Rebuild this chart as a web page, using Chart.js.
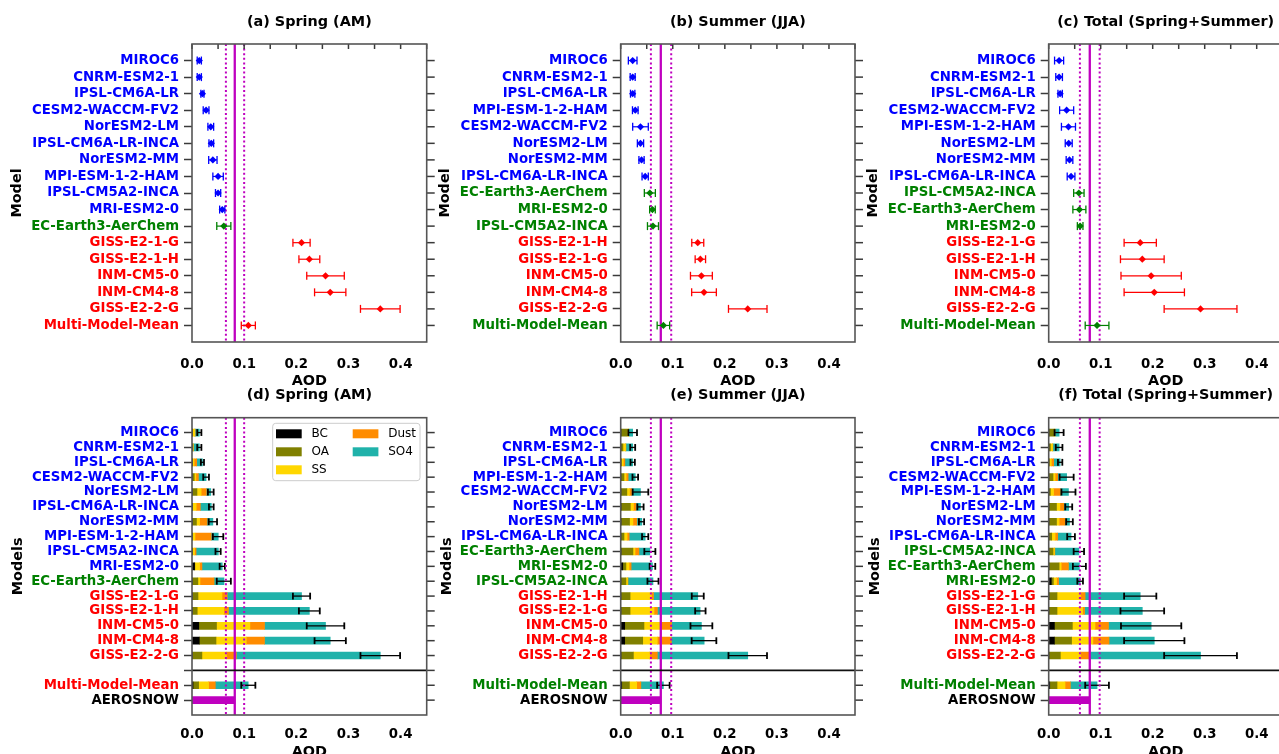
<!DOCTYPE html>
<html>
<head>
<meta charset="utf-8">
<script src="https://cdn.jsdelivr.net/npm/chart.js@4"></script>
<style>
html,body{margin:0;padding:0;background:#fff;}
body{width:1279px;height:754px;overflow:hidden;position:relative;}
canvas{position:absolute;left:0;top:0;}
</style>
</head>
<body>
<script>
// ---------------- DATA ----------------
const xTickValues = [0, 0.1, 0.2, 0.3, 0.4];
const topMinorTicks = [0, 0.05, 0.1, 0.15, 0.2, 0.25, 0.3, 0.35, 0.4, 0.45];
const speciesNames = ['BC', 'OA', 'SS', 'Dust', 'SO4'];
const speciesColors = ['#000000', '#808000', '#FFD700', '#FF8C00', '#20B2AA'];

// (a)/(d) Spring (AM)
const springModels = ['MIROC6','CNRM-ESM2-1','IPSL-CM6A-LR','CESM2-WACCM-FV2','NorESM2-LM','IPSL-CM6A-LR-INCA','NorESM2-MM','MPI-ESM-1-2-HAM','IPSL-CM5A2-INCA','MRI-ESM2-0','EC-Earth3-AerChem','GISS-E2-1-G','GISS-E2-1-H','INM-CM5-0','INM-CM4-8','GISS-E2-2-G','Multi-Model-Mean'];
const springGroup = ['b','b','b','b','b','b','b','b','b','b','g','r','r','r','r','r','r'];
const springMean = [0.014,0.014,0.020,0.027,0.036,0.037,0.040,0.050,0.050,0.058,0.061,0.210,0.225,0.256,0.265,0.361,0.108];
const springErr  = [0.004,0.004,0.003,0.0055,0.0055,0.0045,0.008,0.010,0.005,0.005,0.0135,0.0165,0.020,0.036,0.030,0.038,0.0135];
const springBC   = [0.0003,0.0002,0.0003,0.0003,0.0005,0.0005,0.0005,0.0003,0.0003,0.005,0.0003,0.0005,0.0005,0.013,0.014,0.0005,0.002];
const springOA   = [0.0007,0.0003,0.0007,0.004,0.009,0.0005,0.008,0.0005,0.0005,0.0005,0.011,0.011,0.0095,0.034,0.032,0.0185,0.0107];
const springSS   = [0.004,0.0015,0.003,0.003,0.008,0.007,0.006,0.005,0.004,0.009,0.004,0.046,0.051,0.064,0.058,0.047,0.019];
const springDust = [0.001,0.0005,0.005,0.005,0.010,0.008,0.0145,0.031,0.003,0.0045,0.027,0.010,0.009,0.028,0.035,0.019,0.013];
const springSO4  = [0.008,0.0115,0.011,0.0147,0.0085,0.021,0.011,0.0135,0.0427,0.039,0.019,0.1425,0.155,0.117,0.126,0.276,0.063];
const springObs  = [0.065, 0.082, 0.100]; // AEROSNOW low, mean, high

// (b)/(e) Summer (JJA)
const summerModels = ['MIROC6','CNRM-ESM2-1','IPSL-CM6A-LR','MPI-ESM-1-2-HAM','CESM2-WACCM-FV2','NorESM2-LM','NorESM2-MM','IPSL-CM6A-LR-INCA','EC-Earth3-AerChem','MRI-ESM2-0','IPSL-CM5A2-INCA','GISS-E2-1-H','GISS-E2-1-G','INM-CM5-0','INM-CM4-8','GISS-E2-2-G','Multi-Model-Mean'];
const summerGroup = ['b','b','b','b','b','b','b','b','g','g','g','r','r','r','r','r','g'];
const summerMean = [0.023,0.023,0.023,0.028,0.038,0.038,0.040,0.047,0.056,0.061,0.062,0.148,0.153,0.155,0.160,0.244,0.082];
const summerErr  = [0.0083,0.0048,0.0042,0.0054,0.015,0.006,0.005,0.006,0.0106,0.0054,0.0106,0.0115,0.010,0.021,0.0237,0.037,0.012];
const summerBC   = [0.0005,0.0003,0.0003,0.0003,0.0003,0.0005,0.0005,0.0003,0.0005,0.004,0.0003,0.0003,0.0003,0.0077,0.0077,0.0004,0.002];
const summerOA   = [0.012,0.004,0.0007,0.006,0.0115,0.018,0.0165,0.006,0.023,0.006,0.0097,0.0177,0.0177,0.037,0.0346,0.024,0.0147];
const summerSS   = [0.002,0.005,0.004,0.004,0.005,0.006,0.0065,0.006,0.004,0.006,0.003,0.041,0.046,0.031,0.028,0.031,0.014];
const summerDust = [0.0005,0.0007,0.003,0.004,0.004,0.005,0.0075,0.004,0.0075,0.004,0.001,0.004,0.0065,0.022,0.027,0.015,0.008];
const summerSO4  = [0.008,0.013,0.015,0.0137,0.0172,0.0085,0.0095,0.0307,0.021,0.041,0.048,0.085,0.082,0.0573,0.063,0.1736,0.0433];
const summerObs  = [0.058, 0.077, 0.097];

// (c)/(f) Total (Spring+Summer)
const totalModels = ['MIROC6','CNRM-ESM2-1','IPSL-CM6A-LR','CESM2-WACCM-FV2','MPI-ESM-1-2-HAM','NorESM2-LM','NorESM2-MM','IPSL-CM6A-LR-INCA','IPSL-CM5A2-INCA','EC-Earth3-AerChem','MRI-ESM2-0','GISS-E2-1-G','GISS-E2-1-H','INM-CM5-0','INM-CM4-8','GISS-E2-2-G','Multi-Model-Mean'];
const totalGroup = ['b','b','b','b','b','b','b','b','g','g','g','r','r','r','r','r','g'];
const totalMean = [0.020,0.020,0.022,0.0345,0.038,0.0385,0.040,0.043,0.058,0.059,0.0605,0.176,0.180,0.197,0.203,0.292,0.093];
const totalErr  = [0.0087,0.0064,0.0042,0.0135,0.0135,0.0067,0.0064,0.0074,0.010,0.0125,0.0054,0.031,0.042,0.058,0.058,0.070,0.0228];
const totalBC   = [0.0005,0.0003,0.0003,0.0003,0.0003,0.0005,0.0005,0.0003,0.0003,0.0004,0.005,0.0004,0.0004,0.011,0.011,0.0004,0.002];
const totalOA   = [0.010,0.003,0.0007,0.008,0.003,0.0145,0.0145,0.0055,0.008,0.0196,0.004,0.0156,0.0156,0.0345,0.033,0.022,0.014];
const totalSS   = [0.001,0.004,0.004,0.004,0.006,0.0065,0.005,0.0065,0.0025,0.004,0.006,0.045,0.049,0.0435,0.041,0.0386,0.0154];
const totalDust = [0.0005,0.0007,0.0045,0.005,0.013,0.0075,0.0115,0.005,0.001,0.014,0.004,0.009,0.004,0.026,0.031,0.0166,0.0103];
const totalSO4  = [0.008,0.012,0.0125,0.0172,0.0157,0.0095,0.0085,0.0257,0.0462,0.021,0.0415,0.106,0.111,0.082,0.087,0.2144,0.0513];
const totalObs  = [0.060, 0.079, 0.098];

// ---------------- STYLE / LAYOUT ----------------
const MAG = '#BF00BF';
const COL = {b:'#0000FF', g:'#008000', r:'#FF0000', k:'#000000'};
const CW = 1300, CH = 780;
const FONT = "'DejaVu Sans', 'Liberation Sans', sans-serif";
Chart.defaults.font.family = FONT;
Chart.defaults.color = '#000';

const GEOM = {
  a:{L:0,   left:192,   right:426.7,  top:44,    bottom:342, yTitleX:17},
  b:{L:430, left:620.7, right:855,    top:44,    bottom:342, yTitleX:445.3},
  c:{L:858, left:1048.7,right:1282.7, top:44,    bottom:342, yTitleX:873.3},
  d:{L:0,   left:192,   right:426.7,  top:417.7, bottom:715, yTitleX:18.7},
  e:{L:430, left:620.7, right:855,    top:417.7, bottom:715, yTitleX:447},
  f:{L:858, left:1048.7,right:1282.7, top:417.7, bottom:715, yTitleX:875}
};

function makeCanvas() {
  const c = document.createElement('canvas');
  c.width = CW; c.height = CH;
  c.style.width = CW + 'px'; c.style.height = CH + 'px';
  document.body.appendChild(c);
  return c;
}

function seg(ctx, x1, y1, x2, y2) { ctx.beginPath(); ctx.moveTo(x1, y1); ctx.lineTo(x2, y2); ctx.stroke(); }

function drawVLines(chart, obs) {
  const {ctx, chartArea:a, scales:{x}} = chart;
  ctx.save();
  ctx.strokeStyle = MAG;
  ctx.lineWidth = 2;
  ctx.setLineDash([2, 2.6]);
  [obs[0], obs[2]].forEach(v => { const px = x.getPixelForValue(v); seg(ctx, px, a.top, px, a.bottom); });
  ctx.setLineDash([]);
  ctx.lineWidth = 2.3;
  const pm = x.getPixelForValue(obs[1]);
  seg(ctx, pm, a.top, pm, a.bottom);
  ctx.restore();
}

function drawErrBars(chart, centers, errs, rows, colors, capHalf, lw, capLw) {
  const {ctx, scales:{x, y}} = chart;
  ctx.save();
  centers.forEach((m, i) => {
    const x1 = x.getPixelForValue(m - errs[i]), x2 = x.getPixelForValue(m + errs[i]);
    const yy = y.getPixelForValue(rows[i]);
    ctx.strokeStyle = colors[i];
    ctx.lineWidth = lw;
    seg(ctx, x1, yy, x2, yy);
    ctx.lineWidth = capLw;
    seg(ctx, x1, yy - capHalf, x1, yy + capHalf);
    seg(ctx, x2, yy - capHalf, x2, yy + capHalf);
  });
  ctx.restore();
}

function drawFrame(chart, topTicks) {
  const {ctx, chartArea:a, scales:{x, y}} = chart;
  ctx.save();
  ctx.strokeStyle = '#3a3a3a';
  ctx.lineWidth = 1.5;
  y.ticks.forEach(t => { const py = y.getPixelForValue(t.value); seg(ctx, a.right, py, a.right + 8, py); });
  if (topTicks) topMinorTicks.forEach(v => { const px = x.getPixelForValue(v); seg(ctx, px, a.top, px, a.top + 5); });
  ctx.strokeStyle = '#555';
  ctx.lineWidth = 1.6;
  ctx.strokeRect(a.left, a.top, a.right - a.left, a.bottom - a.top);
  ctx.restore();
}

function drawLegend(chart) {
  const {ctx, chartArea:a} = chart;
  const ds = chart.data.datasets.slice(0, 5);
  const bw = 147.3, bh = 57.4;
  const bx = a.right - 6.7 - bw, by = a.top + 5.6;
  ctx.save();
  ctx.beginPath();
  if (ctx.roundRect) ctx.roundRect(bx, by, bw, bh, 3); else ctx.rect(bx, by, bw, bh);
  ctx.fillStyle = 'rgba(255,255,255,0.85)';
  ctx.fill();
  ctx.strokeStyle = '#cccccc';
  ctx.lineWidth = 1;
  ctx.stroke();
  ctx.font = '12px ' + FONT;
  ctx.textBaseline = 'middle';
  ctx.textAlign = 'left';
  ds.forEach((d, k) => {
    const col = Math.floor(k / 3), row = k % 3;
    const px = bx + 3.3 + col * 76.7, py = by + 6 + row * 18;
    ctx.fillStyle = d.backgroundColor;
    ctx.fillRect(px, py, 25.7, 9);
    ctx.fillStyle = '#000';
    ctx.fillText(d.label, px + 35.5, py + 4.8);
  });
  ctx.restore();
}

function baseOptions(g, row, titleText, yTitle, labels, labelColors, yMax) {
  const titleLH = 14.4 * 1.2;
  const tPadTop = row === 0 ? 14 : 5;
  const layoutTop = row === 0 ? 0 : (395 - titleLH / 2 - tPadTop);
  const tPadBottom = g.top - layoutTop - tPadTop - titleLH;
  const xH = row === 0 ? 47.64 : 45.64;
  return {
    responsive: false, animation: false, events: [],
    layout: {padding: {left: g.L, right: CW - g.right, top: layoutTop, bottom: CH - g.bottom - xH}},
    plugins: {
      legend: {display: false}, tooltip: {enabled: false},
      title: {display: true, text: titleText, fullSize: false, color: '#000',
              font: {size: 14.4, weight: 'bold', family: FONT}, padding: {top: tPadTop, bottom: tPadBottom}}
    },
    scales: {
      x: {
        type: 'linear', min: 0, max: 0.45, stacked: true, offset: false,
        afterBuildTicks: s => { s.ticks = xTickValues.map(v => ({value: v})); },
        afterFit: s => { s.height = xH; },
        grid: {display: false, drawTicks: false, offset: false}, border: {display: false},
        ticks: {padding: row === 0 ? 15 : 11.3, color: '#000', autoSkip: false, maxRotation: 0,
                font: {size: 13.3, weight: 'bold', family: FONT}, callback: v => Number(v).toFixed(1)},
        title: {display: true, text: 'AOD', color: '#000', font: {size: 14.4, weight: 'bold', family: FONT}, padding: {top: 0, bottom: 0}}
      },
      y: {
        type: 'linear', reverse: true, min: -1, max: yMax, stacked: true, offset: false,
        afterBuildTicks: s => { s.ticks = labels.map((_, i) => ({value: i})); },
        afterFit: s => { s.width = g.left - g.L; },
        grid: {display: true, offset: false, drawOnChartArea: false, drawTicks: true, tickLength: 8, tickColor: '#3a3a3a', tickWidth: 1.5, color: '#3a3a3a'},
        border: {display: false},
        ticks: {padding: 5, autoSkip: false, font: {size: 13.3, weight: 'bold', family: FONT},
                color: c => labelColors[c.index] || '#000', callback: v => labels[v]},
        title: {display: true, text: yTitle, color: '#000', font: {size: 14.4, weight: 'bold', family: FONT},
                padding: {top: g.yTitleX - g.L - 8.64, bottom: 0}}
      }
    }
  };
}

function makeTop(g, titleText, models, groups, mean, err, obs) {
  const colors = groups.map(k => COL[k]);
  const rows = models.map((_, i) => i);
  const opts = baseOptions(g, 0, titleText, 'Model', models, colors, models.length);
  new Chart(makeCanvas(), {
    type: 'scatter',
    data: {datasets: [{
      label: 'AOD',
      data: mean.map((v, i) => ({x: v, y: i})),
      pointStyle: 'rectRot', pointRadius: 3.6, backgroundColor: colors, borderColor: colors, borderWidth: 0
    }]},
    options: opts,
    plugins: [{
      id: 'topDeco',
      beforeDatasetsDraw(chart) {
        drawVLines(chart, obs);
        drawErrBars(chart, mean, err, rows, colors, 4, 1.2, 1.3);
      },
      afterDraw(chart) { drawFrame(chart, true); }
    }]
  });
}

function makeBottom(g, titleText, models, groups, mean, err, species, obs, withLegend) {
  const nM = models.length - 1; // individual models (MMM last)
  const labels = models.slice(0, nM).concat(['', models[nM], 'AEROSNOW']);
  const labelColors = groups.slice(0, nM).map(k => COL[k]).concat(['#000', COL[groups[nM]], COL.k]);
  const rows = models.map((_, i) => i < nM ? i : nM + 1);
  const opts = baseOptions(g, 1, titleText, 'Models', labels, labelColors, labels.length);
  opts.indexAxis = 'y';
  const datasets = species.map((arr, k) => ({
    label: speciesNames[k],
    data: arr.map((v, i) => ({x: v, y: rows[i]})),
    backgroundColor: speciesColors[k], borderWidth: 0, barThickness: 7, stack: 's'
  }));
  datasets.push({label: 'AEROSNOW', data: [{x: obs[1], y: nM + 2}], backgroundColor: MAG, borderWidth: 0, barThickness: 7, stack: 's'});
  new Chart(makeCanvas(), {
    type: 'bar',
    data: {datasets},
    options: opts,
    plugins: [{
      id: 'bottomDeco',
      afterDatasetsDraw(chart) {
        const {ctx, chartArea:a, scales:{y}} = chart;
        drawErrBars(chart, mean, err, rows, mean.map(() => '#000'), 3.4, 1.3, 1.8);
        drawVLines(chart, obs);
        const ps = y.getPixelForValue(nM);
        ctx.save(); ctx.strokeStyle = '#111'; ctx.lineWidth = 1.6;
        seg(ctx, a.left, ps, a.right, ps); ctx.restore();
      },
      afterDraw(chart) {
        drawFrame(chart, false);
        if (withLegend) drawLegend(chart);
      }
    }]
  });
}

makeTop(GEOM.a, '(a) Spring (AM)', springModels, springGroup, springMean, springErr, springObs);
makeTop(GEOM.b, '(b) Summer (JJA)', summerModels, summerGroup, summerMean, summerErr, summerObs);
makeTop(GEOM.c, '(c) Total (Spring+Summer)', totalModels, totalGroup, totalMean, totalErr, totalObs);
makeBottom(GEOM.d, '(d) Spring (AM)', springModels, springGroup, springMean, springErr,
  [springBC, springOA, springSS, springDust, springSO4], springObs, true);
makeBottom(GEOM.e, '(e) Summer (JJA)', summerModels, summerGroup, summerMean, summerErr,
  [summerBC, summerOA, summerSS, summerDust, summerSO4], summerObs, false);
makeBottom(GEOM.f, '(f) Total (Spring+Summer)', totalModels, totalGroup, totalMean, totalErr,
  [totalBC, totalOA, totalSS, totalDust, totalSO4], totalObs, false);
</script>
</body>
</html>
